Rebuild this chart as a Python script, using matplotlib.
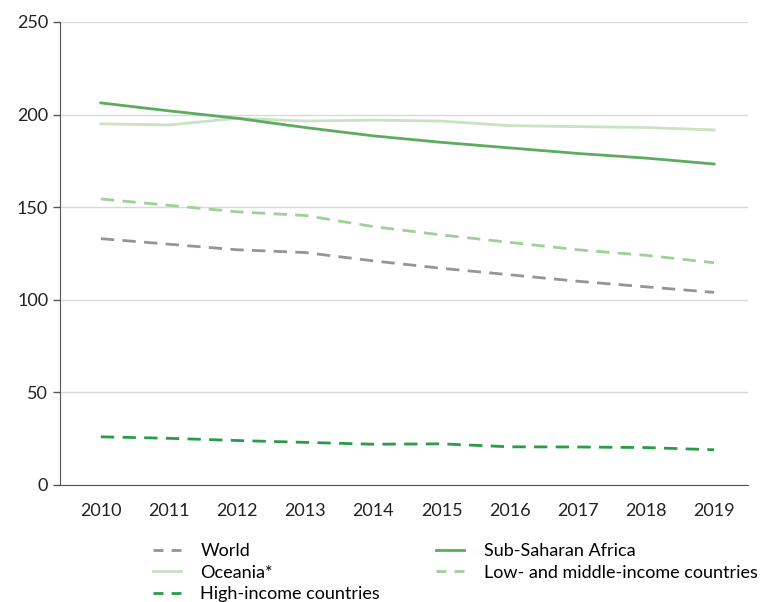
import matplotlib
matplotlib.use("Agg")
import matplotlib.pyplot as plt

plt.rcParams["font.family"] = ["Lato", "DejaVu Sans"]

years = [2010, 2011, 2012, 2013, 2014, 2015, 2016, 2017, 2018, 2019]
world = [133, 130, 127, 125.5, 121, 117, 113.5, 110, 107, 104]
oceania = [195, 194.4, 198, 196.5, 197, 196.5, 194, 193.5, 193, 191.7]
high_income = [26, 25.2, 24, 23, 22, 22.2, 20.6, 20.5, 20.2, 19]
sub_saharan = [206.3, 202, 198, 193, 188.5, 185, 182, 179, 176.5, 173.3]
low_middle = [154.4, 151, 147.5, 145.5, 139.5, 135, 131, 127, 124, 120]

fig = plt.figure(figsize=(7.65, 6.02), dpi=100)
ax = fig.add_axes([0.0784, 0.1944, 0.8996, 0.7691])

dash = (0, (4.8, 3.0))
ax.plot(years, world, color="#939598", lw=2, ls=dash, label="World")
ax.plot(years, oceania, color="#c8e2c2", lw=2, label="Oceania*")
ax.plot(years, high_income, color="#2a9c48", lw=2, ls=dash, label="High-income countries")
ax.plot(years, sub_saharan, color="#5dab61", lw=2, label="Sub-Saharan Africa")
ax.plot(years, low_middle, color="#9fd097", lw=2, ls=dash, label="Low- and middle-income countries")

ax.set_xlim(2009.4, 2019.5)
ax.set_ylim(0, 250)
ax.set_xticks(years)
ax.set_yticks([0, 50, 100, 150, 200, 250])
ax.tick_params(axis="x", length=0, pad=13, labelsize=13, colors="#222222")
ax.tick_params(axis="y", length=5, width=1, color="#555555", labelsize=13, colors="#222222")
ax.grid(axis="y", color="#d9d9d9", lw=1)
ax.set_axisbelow(True)
for s in ["top", "right"]:
    ax.spines[s].set_visible(False)
ax.spines["left"].set_color("#555555")
ax.spines["bottom"].set_color("#555555")

leg = ax.legend(loc="upper left", bbox_to_anchor=(0.124, -0.11), ncol=2, frameon=False,
                fontsize=13, handlelength=1.55, handletextpad=1.1, columnspacing=3.08,
                labelspacing=0.3, borderaxespad=0)
# two even dashes in the legend keys
for h in leg.get_lines():
    if h.get_linestyle() != "-":
        h.set_linestyle((0, (3.6, 2.9)))

fig.savefig("out.png", dpi=100)
